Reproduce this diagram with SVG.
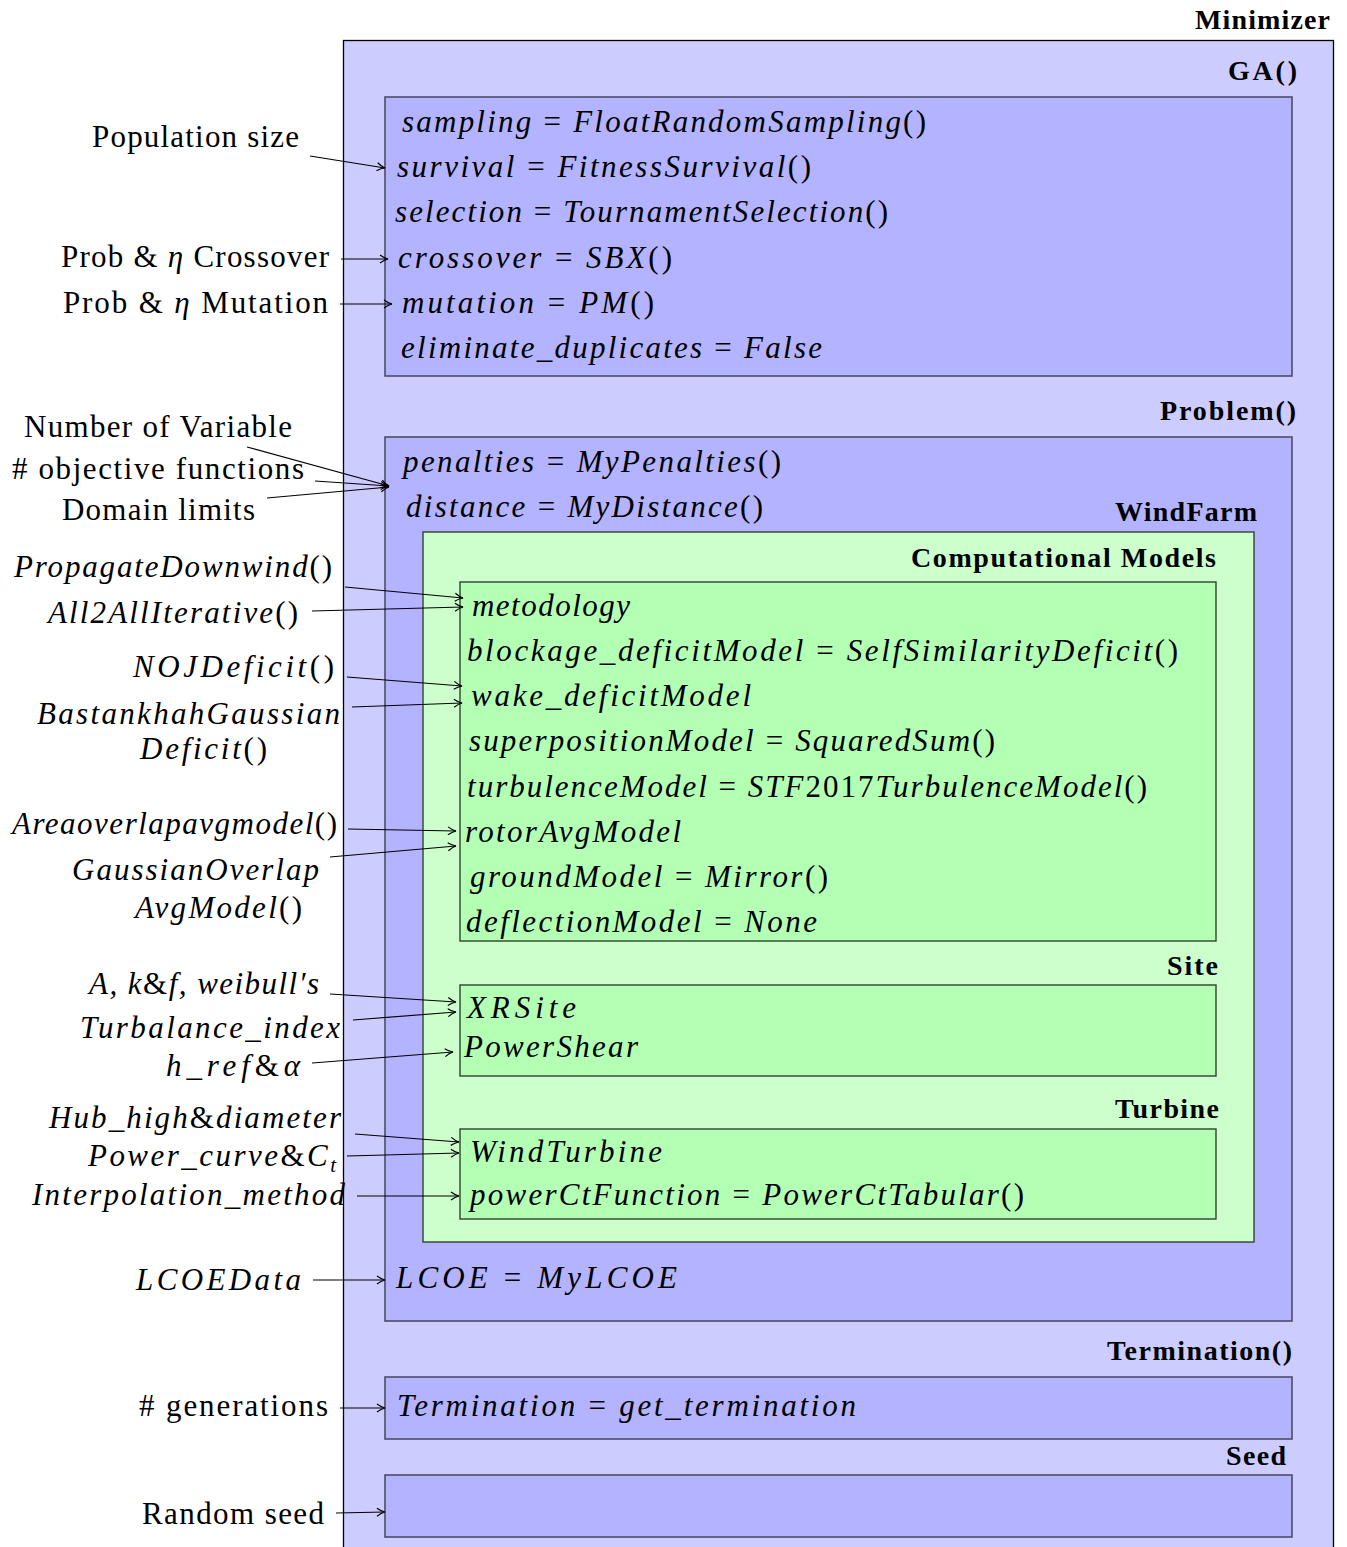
<svg xmlns="http://www.w3.org/2000/svg" width="1347" height="1547" viewBox="0 0 1347 1547">
<style>
.outer{fill:#ccccff;stroke:#000;stroke-width:1.3}
.blue{fill:#b3b3ff;stroke:#4d4d66;stroke-width:1.6}
.lgreen{fill:#ccffcc;stroke:#334033;stroke-width:1.4}
.green{fill:#b3ffb3;stroke:#334033;stroke-width:1.4}
.hd{font-family:"Liberation Serif",serif;font-weight:bold;font-size:28px;text-anchor:end;fill:#000}
.m{font-family:"Liberation Serif",serif;font-style:italic;font-size:31px;fill:#000}
.r{font-family:"Liberation Serif",serif;font-size:31px;fill:#000}
.u{font-style:normal}
.c{fill:none;stroke:#000;stroke-width:1.2}
</style>
<defs>
<marker id="ah" viewBox="0 0 10 10" refX="9" refY="5" markerWidth="10" markerHeight="10" markerUnits="userSpaceOnUse" orient="auto">
<path d="M1,1 Q5,4 9,5 Q5,6 1,9" fill="none" stroke="#000" stroke-width="1.2"/>
</marker>
</defs>
<rect width="1347" height="1547" fill="#fff"/>

<g id="minimizer">
<rect class="outer" x="343.5" y="40.5" width="990" height="1530"/>
<text class="hd" x="1330" y="29" textLength="135">Minimizer</text>
</g>

<g id="ga">
<text class="hd" x="1297" y="80" textLength="69">GA()</text>
<rect class="blue" x="385" y="97" width="907" height="279"/>
<text class="m" x="402" y="132" textLength="524">sampling<tspan class="u"> = </tspan>FloatRandomSampling<tspan class="u">()</tspan></text>
<text class="m" x="397" y="177" textLength="414">survival<tspan class="u"> = </tspan>FitnessSurvival<tspan class="u">()</tspan></text>
<text class="m" x="395" y="222" textLength="493">selection<tspan class="u"> = </tspan>TournamentSelection<tspan class="u">()</tspan></text>
<text class="m" x="398" y="268" textLength="274">crossover<tspan class="u"> = </tspan>SBX<tspan class="u">()</tspan></text>
<text class="m" x="402" y="313" textLength="252">mutation<tspan class="u"> = </tspan>PM<tspan class="u">()</tspan></text>
<text class="m" x="401" y="358" textLength="421">eliminate_duplicates<tspan class="u"> = </tspan>False</text>
</g>

<g id="problem">
<text class="hd" x="1296" y="420" textLength="136">Problem()</text>
<rect class="blue" x="385" y="437" width="907" height="884"/>
<text class="m" x="403" y="472" textLength="378">penalties<tspan class="u"> = </tspan>MyPenalties<tspan class="u">()</tspan></text>
<text class="m" x="406" y="517" textLength="357">distance<tspan class="u"> = </tspan>MyDistance<tspan class="u">()</tspan></text>
<text class="m" x="396" y="1288" textLength="281">LCOE<tspan class="u"> = </tspan>MyLCOE</text>
</g>

<g id="windfarm">
<text class="hd" x="1257" y="521" textLength="142">WindFarm</text>
<rect class="lgreen" x="423" y="532" width="831" height="710"/>
</g>

<g id="computational-models">
<text class="hd" x="1216" y="567" textLength="305">Computational Models</text>
<rect class="green" x="460" y="582" width="756" height="359"/>
<text class="m" x="472" y="616" textLength="158">metodology</text>
<text class="m" x="467" y="661" textLength="711">blockage_deficitModel<tspan class="u"> = </tspan>SelfSimilarityDeficit<tspan class="u">()</tspan></text>
<text class="m" x="471" y="706" textLength="280">wake_deficitModel</text>
<text class="m" x="469" y="751" textLength="526">superpositionModel<tspan class="u"> = </tspan>SquaredSum<tspan class="u">()</tspan></text>
<text class="m" x="467" y="797" textLength="680">turbulenceModel<tspan class="u"> = </tspan>STF<tspan class="u">2017</tspan>TurbulenceModel<tspan class="u">()</tspan></text>
<text class="m" x="465" y="842" textLength="216">rotorAvgModel</text>
<text class="m" x="470" y="887" textLength="358">groundModel<tspan class="u"> = </tspan>Mirror<tspan class="u">()</tspan></text>
<text class="m" x="466" y="932" textLength="351">deflectionModel<tspan class="u"> = </tspan>None</text>
</g>

<g id="site">
<text class="hd" x="1218" y="975" textLength="51">Site</text>
<rect class="green" x="460" y="985" width="756" height="91"/>
<text class="m" x="467" y="1018" textLength="109">XRSite</text>
<text class="m" x="464" y="1057" textLength="174">PowerShear</text>
</g>

<g id="turbine">
<text class="hd" x="1219" y="1118" textLength="104">Turbine</text>
<rect class="green" x="460" y="1129" width="756" height="90"/>
<text class="m" x="470" y="1162" textLength="192">WindTurbine</text>
<text class="m" x="470" y="1205" textLength="554">powerCtFunction<tspan class="u"> = </tspan>PowerCtTabular<tspan class="u">()</tspan></text>
</g>

<g id="termination">
<text class="hd" x="1292" y="1360" textLength="185">Termination()</text>
<rect class="blue" x="385" y="1377" width="907" height="62"/>
<text class="m" x="397" y="1416" textLength="459">Termination<tspan class="u"> = </tspan>get_termination</text>
</g>

<g id="seed">
<text class="hd" x="1286" y="1465" textLength="60">Seed</text>
<rect class="blue" x="385" y="1475" width="907" height="62"/>
</g>

<g id="inputs">
<text class="r" x="92" y="147" textLength="207">Population size</text>
<text class="r" x="61" y="267" textLength="268">Prob &amp; <tspan font-style="italic">η</tspan> Crossover</text>
<text class="r" x="63" y="313" textLength="265">Prob &amp; <tspan font-style="italic">η</tspan> Mutation</text>
<text class="r" x="24" y="437" textLength="268">Number of Variable</text>
<text class="r" x="12" y="479" textLength="292"># objective functions</text>
<text class="r" x="62" y="520" textLength="193">Domain limits</text>
<text class="m" x="14" y="577" textLength="318">PropagateDownwind<tspan class="u">()</tspan></text>
<text class="m" x="48" y="623" textLength="250">All2AllIterative<tspan class="u">()</tspan></text>
<text class="m" x="133" y="677" textLength="201">NOJDeficit<tspan class="u">()</tspan></text>
<text class="m" x="37" y="724" textLength="303">BastankhahGaussian</text>
<text class="m" x="140" y="759" textLength="127">Deficit<tspan class="u">()</tspan></text>
<text class="m" x="12" y="834" textLength="325">Areaoverlapavgmodel<tspan class="u">()</tspan></text>
<text class="m" x="72" y="880" textLength="247">GaussianOverlap</text>
<text class="m" x="135" y="918" textLength="167">AvgModel<tspan class="u">()</tspan></text>
<text class="m" x="89" y="994" textLength="230">A, k<tspan class="u">&amp;</tspan>f, weibull′s</text>
<text class="m" x="80" y="1038" textLength="260">Turbalance_index</text>
<text class="m" x="166" y="1076" textLength="134">h_ref<tspan class="u">&amp;</tspan>α</text>
<text class="m" x="49" y="1128" textLength="292">Hub_high<tspan class="u">&amp;</tspan>diameter</text>
<text class="m" x="88" y="1166" textLength="248">Power_curve<tspan class="u">&amp;</tspan>C<tspan font-size="21" dy="6">t</tspan></text>
<text class="m" x="32" y="1205" textLength="313">Interpolation_method</text>
<text class="m" x="136" y="1290" textLength="165">LCOEData</text>
<text class="r" x="139" y="1416" textLength="189"># generations</text>
<text class="r" x="142" y="1524" textLength="182">Random seed</text>
</g>

<g id="connectors" class="c">
<line x1="310" y1="156" x2="385" y2="168" marker-end="url(#ah)"/>
<line x1="341" y1="259" x2="388" y2="259" marker-end="url(#ah)"/>
<line x1="340" y1="304" x2="392" y2="304" marker-end="url(#ah)"/>
<line x1="247" y1="447" x2="389" y2="486" marker-end="url(#ah)"/>
<line x1="315" y1="481" x2="389" y2="486" marker-end="url(#ah)"/>
<line x1="267" y1="498" x2="389" y2="487" marker-end="url(#ah)"/>
<line x1="345" y1="587" x2="463" y2="598" marker-end="url(#ah)"/>
<line x1="312" y1="611" x2="463" y2="607" marker-end="url(#ah)"/>
<line x1="347" y1="677" x2="462" y2="686" marker-end="url(#ah)"/>
<line x1="352" y1="707" x2="462" y2="703" marker-end="url(#ah)"/>
<line x1="348" y1="829" x2="456" y2="831" marker-end="url(#ah)"/>
<line x1="330" y1="857" x2="456" y2="846" marker-end="url(#ah)"/>
<line x1="330" y1="994" x2="456" y2="1002" marker-end="url(#ah)"/>
<line x1="353" y1="1020" x2="456" y2="1012" marker-end="url(#ah)"/>
<line x1="312" y1="1063" x2="453" y2="1052" marker-end="url(#ah)"/>
<line x1="355" y1="1134" x2="459" y2="1142" marker-end="url(#ah)"/>
<line x1="347" y1="1156" x2="459" y2="1153" marker-end="url(#ah)"/>
<line x1="357" y1="1196" x2="459" y2="1196" marker-end="url(#ah)"/>
<line x1="313" y1="1280" x2="385" y2="1280" marker-end="url(#ah)"/>
<line x1="340" y1="1408" x2="385" y2="1408" marker-end="url(#ah)"/>
<line x1="336" y1="1513" x2="385" y2="1512" marker-end="url(#ah)"/>
</g>
</svg>
